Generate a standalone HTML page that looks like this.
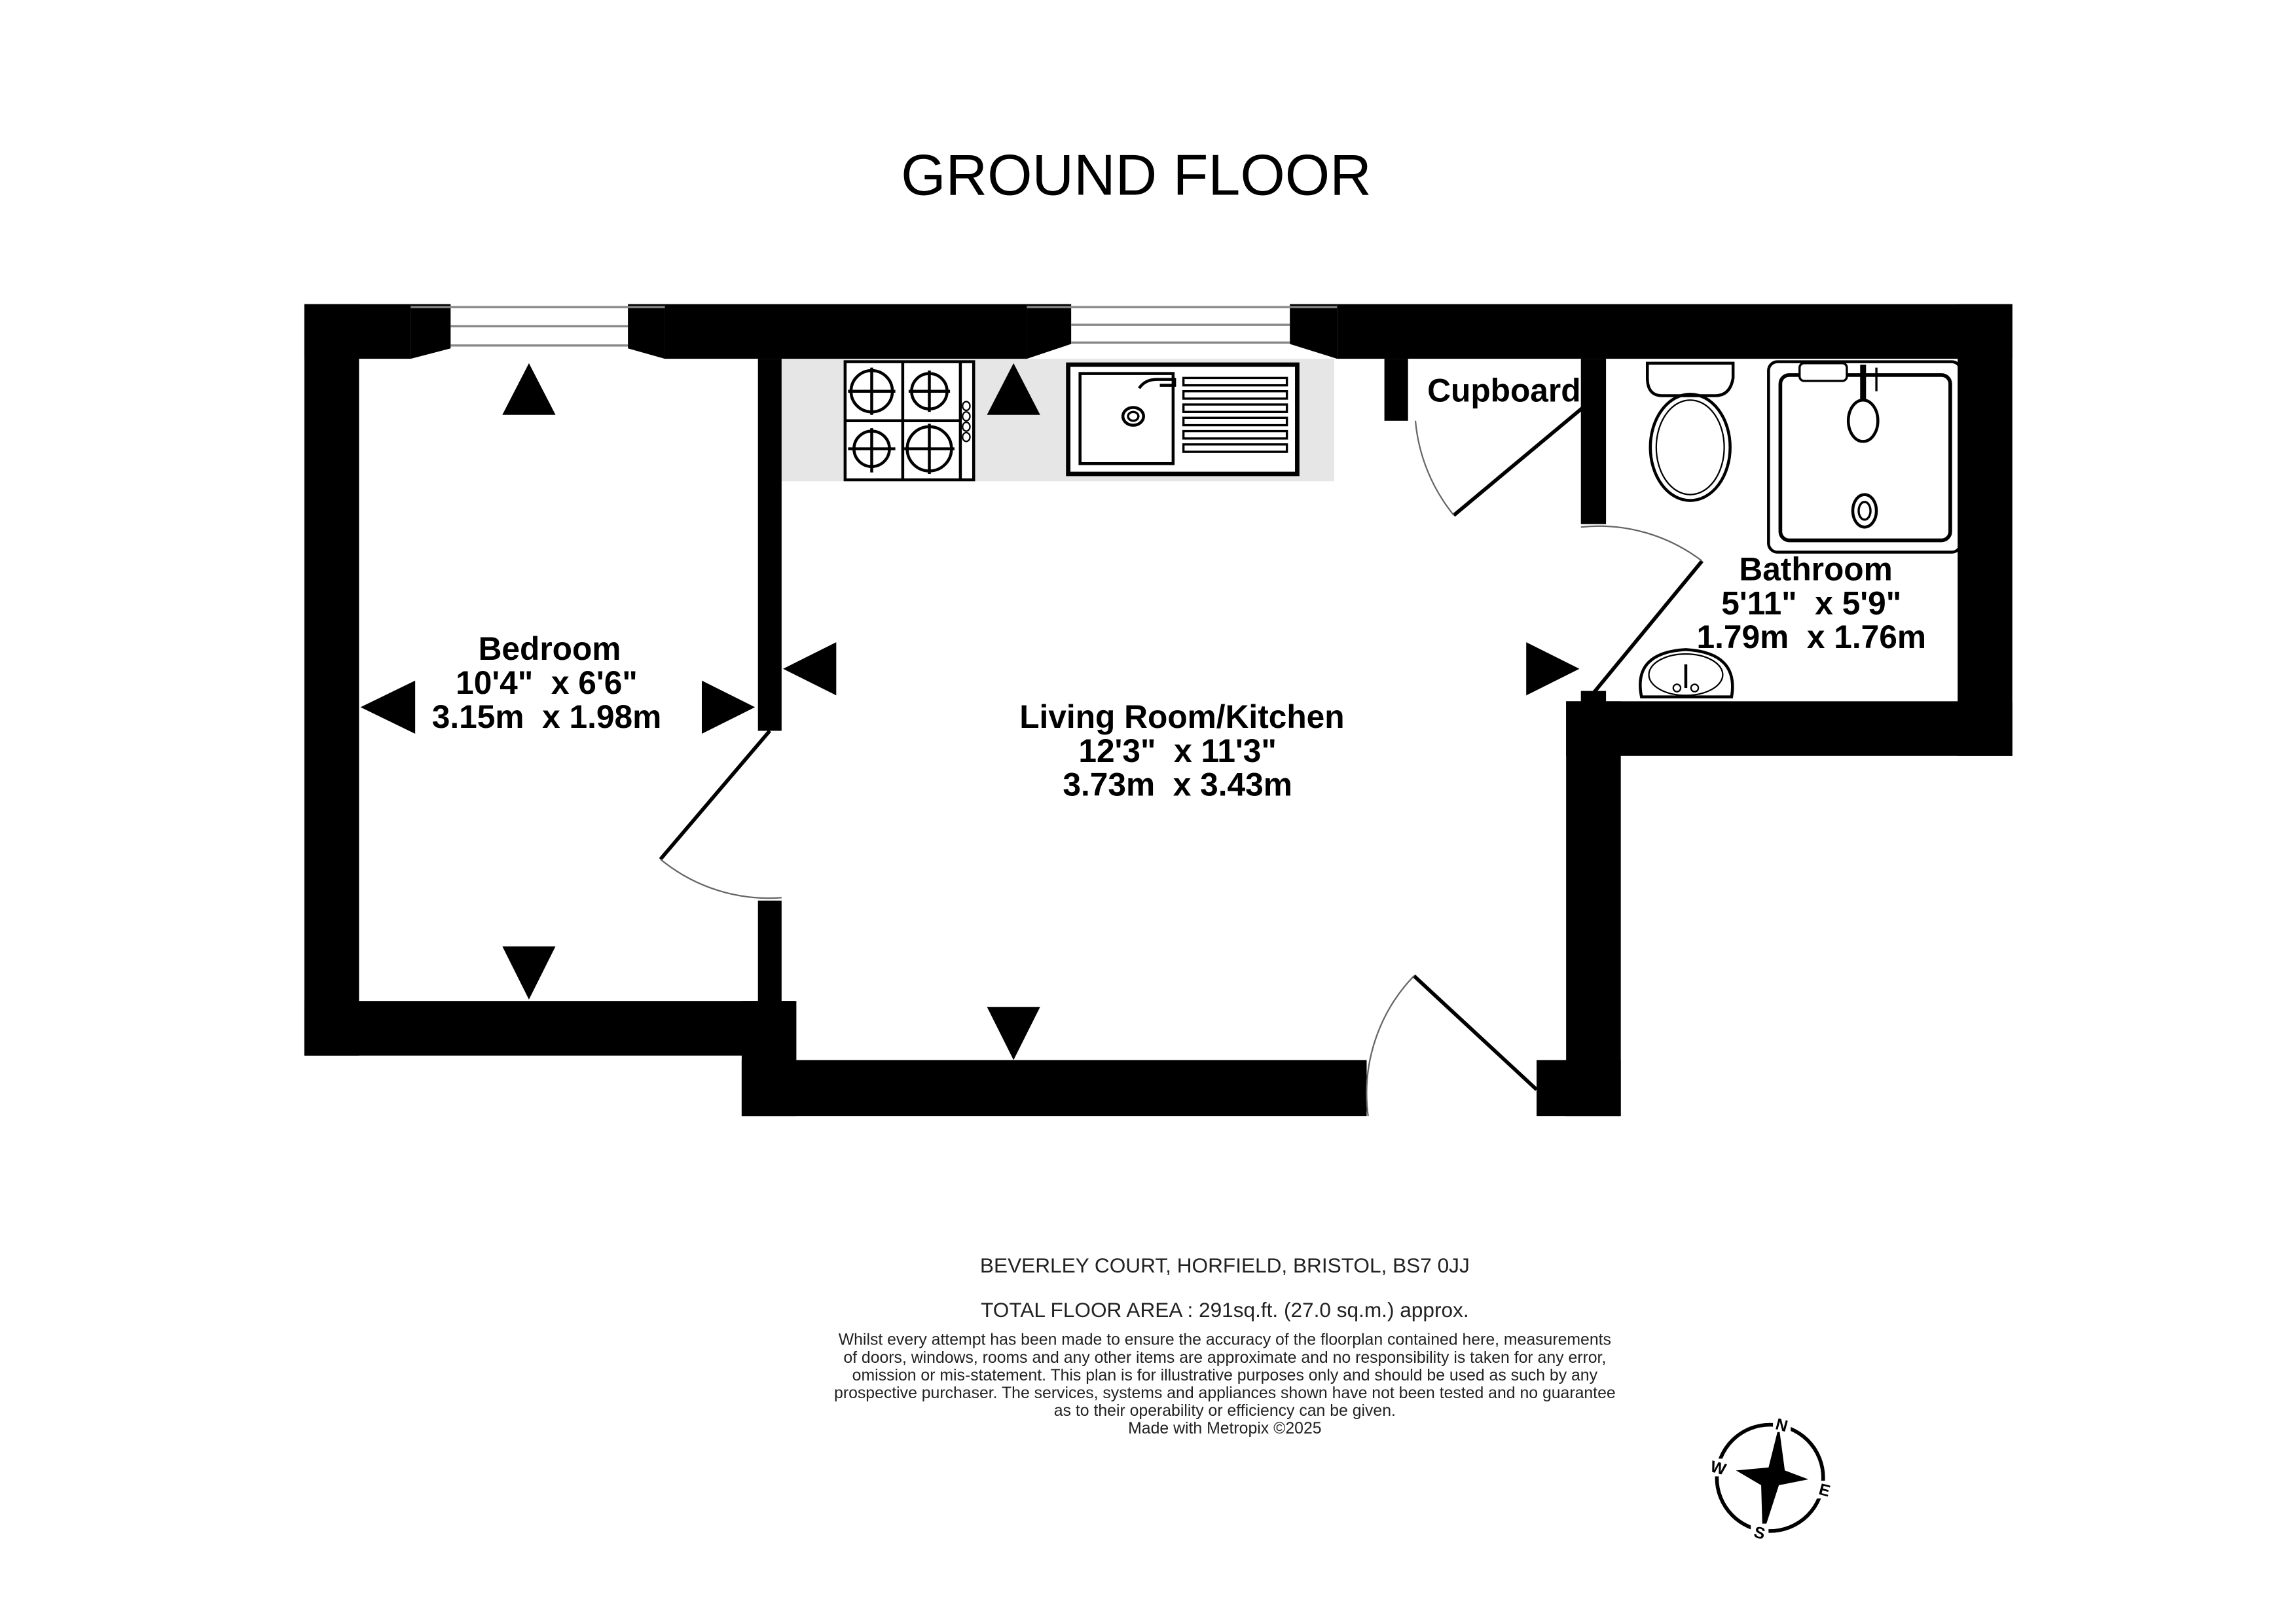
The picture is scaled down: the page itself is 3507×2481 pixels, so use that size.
<!DOCTYPE html>
<html><head><meta charset="utf-8"><style>
html,body{margin:0;padding:0;background:#fff}
svg{display:block}
text{font-family:"Liberation Sans",Arial,sans-serif;white-space:pre}
</style></head><body>
<svg width="3507" height="2481" viewBox="0 0 1554 1100" preserveAspectRatio="none" xmlns="http://www.w3.org/2000/svg" xml:space="preserve">
<rect width="1554" height="1100" fill="#fff"/>
<text x="769" y="132" font-size="39" text-anchor="middle">GROUND FLOOR</text>

<rect x="529" y="243" width="374" height="83" fill="#e6e6e6"/>

<g fill="#000">
<rect x="206" y="206" width="72" height="37"/>
<polygon points="278,206 305,206 305,236 278,243"/>
<polygon points="425,206 450,206 450,243 425,236"/>
<rect x="450" y="206" width="245" height="37"/>
<polygon points="695,206 725,206 725,233 695,243"/>
<polygon points="873,206 905,206 905,243 873,233"/>
<rect x="905" y="206" width="457" height="37"/>
<rect x="206" y="206" width="37" height="509"/>
<rect x="206" y="678" width="332" height="37"/>
<rect x="513" y="243" width="16" height="252"/>
<rect x="513" y="610" width="16" height="90"/>
<rect x="502" y="678" width="37" height="78"/>
<rect x="502" y="718" width="423" height="38"/>
<rect x="1040" y="718" width="57" height="38"/>
<rect x="1060" y="475" width="37" height="281"/>
<rect x="1060" y="475" width="302" height="37"/>
<rect x="1325" y="206" width="37" height="306"/>
<rect x="1070" y="243" width="17" height="112"/>
<rect x="937" y="243" width="16" height="42"/>
<rect x="1070" y="468" width="17" height="10"/>
</g>
<g stroke="#888" stroke-width="1.5">
<line x1="278" y1="208" x2="450" y2="208"/><line x1="305" y1="221" x2="425" y2="221"/><line x1="305" y1="234" x2="425" y2="234"/>
<line x1="695" y1="208" x2="905" y2="208"/><line x1="725" y1="220" x2="873" y2="220"/><line x1="725" y1="232" x2="873" y2="232"/>
</g>

<g fill="none" stroke="#000" stroke-width="2">
<rect x="572" y="245" width="87" height="80" fill="#fff"/>
<line x1="572" y1="285" x2="650" y2="285"/><line x1="650" y1="245" x2="650" y2="325"/><line x1="611" y1="245" x2="611" y2="325"/>
<circle cx="590" cy="265" r="14"/><circle cx="629" cy="265" r="12"/>
<circle cx="590" cy="304" r="12"/><circle cx="629" cy="304" r="15"/>
<line x1="574" y1="265" x2="606" y2="265"/><line x1="590" y1="249" x2="590" y2="281"/>
<line x1="615" y1="265" x2="643" y2="265"/><line x1="629" y1="251" x2="629" y2="279"/>
<line x1="574" y1="304" x2="606" y2="304"/><line x1="590" y1="290" x2="590" y2="320"/>
<line x1="612" y1="304" x2="646" y2="304"/><line x1="629" y1="287" x2="629" y2="321"/>
<g stroke-width="1"><ellipse cx="654" cy="275" rx="2.5" ry="3"/><ellipse cx="654" cy="282" rx="2.5" ry="3"/><ellipse cx="654" cy="289" rx="2.5" ry="3"/><ellipse cx="654" cy="296" rx="2.5" ry="3"/></g>
</g>
<g fill="none" stroke="#000">
<rect x="723" y="247" width="155" height="74" fill="#fff" stroke-width="3"/>
<rect x="731" y="253" width="63" height="61" stroke-width="2"/>
<ellipse cx="767" cy="282" rx="7" ry="6" stroke-width="2"/><ellipse cx="767" cy="282" rx="3.5" ry="3" stroke-width="1.5"/>
<path d="M771,263 q4,-6 12,-6 h12 v4 h-10" stroke-width="2"/>
<g stroke-width="1.5"><rect x="801" y="256" width="70" height="5"/><rect x="801" y="265" width="70" height="5"/><rect x="801" y="274" width="70" height="5"/><rect x="801" y="283" width="70" height="5"/><rect x="801" y="292" width="70" height="5"/><rect x="801" y="301" width="70" height="5"/></g>
</g>

<g fill="none" stroke="#000" stroke-width="2">
<path d="M1115,246 h58 v10 q-2,12 -12,12 h-36 q-10,0 -10,-12 z"/>
<ellipse cx="1144" cy="303" rx="27" ry="36"/>
<ellipse cx="1144" cy="303" rx="23" ry="32" stroke-width="1"/>
</g>
<g fill="none" stroke="#000">
<rect x="1197" y="245" width="130" height="129" rx="6" stroke-width="2"/>
<rect x="1205" y="254" width="115" height="112" rx="6" stroke-width="2.5"/>
<rect x="1218" y="246" width="32" height="12" rx="3" fill="#fff" stroke-width="1.5"/>
<line x1="1261" y1="247" x2="1261" y2="272" stroke-width="4"/>
<ellipse cx="1261" cy="285" rx="10" ry="14" stroke-width="2"/>
<ellipse cx="1262" cy="346" rx="8" ry="11" stroke-width="2"/><ellipse cx="1262" cy="346" rx="4" ry="6" stroke-width="1.5"/>
<line x1="1270" y1="249" x2="1270" y2="265" stroke-width="1.5"/>
</g>
<g fill="none" stroke="#000" stroke-width="2">
<path d="M1111,472 q-6,-30 30,-32 q36,2 31,32 z"/>
<ellipse cx="1141" cy="457" rx="25" ry="14" stroke-width="1"/>
<line x1="1141" y1="450" x2="1141" y2="466"/><circle cx="1135" cy="466" r="2.5" stroke-width="1"/><circle cx="1147" cy="466" r="2.5" stroke-width="1"/>
</g>

<g fill="none" stroke="#000">
<line x1="521" y1="495" x2="447" y2="582" stroke-width="2.5"/>
<path d="M447,582 A115,115 0 0 0 529,608" stroke="#666" stroke-width="1"/>
<line x1="1075" y1="273" x2="984" y2="349" stroke-width="2.5"/>
<path d="M984,349 A118,118 0 0 1 958,285" stroke="#666" stroke-width="1"/>
<line x1="1078" y1="470" x2="1152" y2="380" stroke-width="2.5"/>
<path d="M1152,380 A115,115 0 0 0 1070,357" stroke="#666" stroke-width="1"/>
<line x1="1040" y1="738" x2="957" y2="661" stroke-width="2.5"/>
<path d="M957,661 A115,115 0 0 0 926,756" stroke="#666" stroke-width="1"/>
</g>

<g fill="#000">
<polygon points="358,246 340,281 376,281"/>
<polygon points="358,677 340,641 376,641"/>
<polygon points="244,479 281,461 281,497"/>
<polygon points="511,479 475,461 475,497"/>
<polygon points="686,246 668,281 704,281"/>
<polygon points="686,718 668,682 704,682"/>
<polygon points="530,453 566,435 566,471"/>
<polygon points="1069,453 1033,435 1033,471"/>
</g>

<g font-weight="bold" font-size="22" text-anchor="middle">
<text x="372" y="447">Bedroom</text>
<text x="370" y="470">10'4"  x 6'6"</text>
<text x="370" y="493">3.15m  x 1.98m</text>
<text x="800" y="493">Living Room/Kitchen</text>
<text x="797" y="516">12'3"  x 11'3"</text>
<text x="797" y="539">3.73m  x 3.43m</text>
<text x="1229" y="393">Bathroom</text>
<text x="1226" y="416">5'11"  x 5'9"</text>
<text x="1226" y="439">1.79m  x 1.76m</text>
<text x="1018" y="272">Cupboard</text>
</g>

<g text-anchor="middle" fill="#222">
<text x="829" y="862" font-size="14">BEVERLEY COURT, HORFIELD, BRISTOL, BS7 0JJ</text>
<text x="829" y="892" font-size="14">TOTAL FLOOR AREA : 291sq.ft. (27.0 sq.m.) approx.</text>
<g font-size="11">
<text x="829" y="911">Whilst every attempt has been made to ensure the accuracy of the floorplan contained here, measurements</text>
<text x="829" y="923">of doors, windows, rooms and any other items are approximate and no responsibility is taken for any error,</text>
<text x="829" y="935">omission or mis-statement. This plan is for illustrative purposes only and should be used as such by any</text>
<text x="829" y="947">prospective purchaser. The services, systems and appliances shown have not been tested and no guarantee</text>
<text x="829" y="959">as to their operability or efficiency can be given.</text>
<text x="829" y="971">Made with Metropix ©2025</text>
</g>
</g>

<g>
<circle cx="1198" cy="1001" r="36" fill="none" stroke="#000" stroke-width="2.5"/>
<polygon points="1204,966 1208,996 1224,1002 1204,1006 1193,1040 1192,1006 1175,996 1197,994" fill="#000"/>
<g font-size="11" font-weight="bold" text-anchor="middle">
<rect x="1200" y="958" width="12" height="12" fill="#fff"/><text x="1206" y="969" transform="rotate(15 1206 965)">N</text>
<rect x="1157" y="988" width="12" height="12" fill="#fff"/><text x="1163" y="998" transform="rotate(15 1163 994)">W</text>
<rect x="1229" y="1003" width="12" height="12" fill="#fff"/><text x="1235" y="1013" transform="rotate(15 1235 1009)">E</text>
<rect x="1185" y="1032" width="12" height="12" fill="#fff"/><text x="1191" y="1042" transform="rotate(15 1191 1038)">S</text>
</g>
</g>
</svg>
</body></html>
